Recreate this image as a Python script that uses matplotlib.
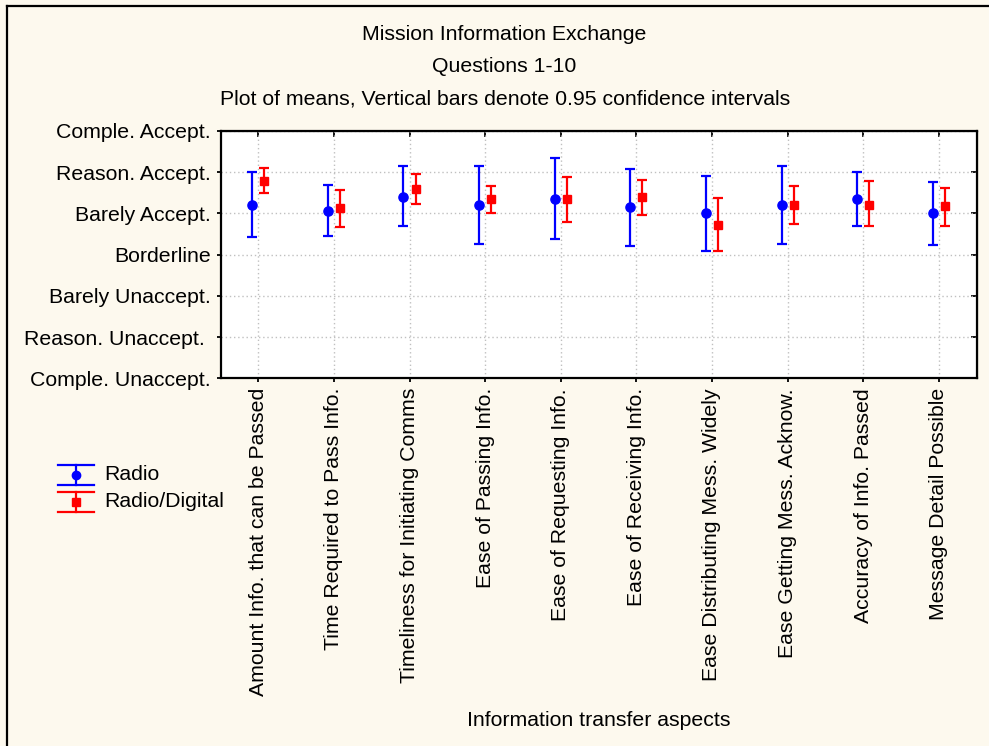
import matplotlib
matplotlib.use("Agg")
import matplotlib.pyplot as plt
from matplotlib.lines import Line2D
import numpy as np

plt.rcParams['font.family'] = ['Liberation Sans', 'DejaVu Sans']

categories = ["Amount Info. that can be Passed", "Time Required to Pass Info.",
              "Timeliness for Initiating Comms", "Ease of Passing Info.",
              "Ease of Requesting Info.", "Ease of Receiving Info.",
              "Ease Distributing Mess. Widely", "Ease Getting Mess. Acknow.",
              "Accuracy of Info. Passed", "Message Detail Possible"]
y_levels = [1, 2, 3, 4, 5, 6, 7]
y_labels = ["Comple. Unaccept.", "Reason. Unaccept. ", "Barely Unaccept.", "Borderline",
            "Barely Accept.", "Reason. Accept.", "Comple. Accept."]

radio_mean = [5.20, 5.07, 5.41, 5.20, 5.36, 5.16, 5.01, 5.20, 5.36, 5.01]
radio_lo = [4.42, 4.45, 4.70, 4.27, 4.39, 4.20, 4.08, 4.27, 4.70, 4.24]
radio_hi = [6.00, 5.68, 6.15, 6.16, 6.34, 6.08, 5.91, 6.15, 6.00, 5.76]
digital_mean = [5.79, 5.12, 5.59, 5.36, 5.36, 5.41, 4.73, 5.21, 5.21, 5.17]
digital_lo = [5.49, 4.68, 5.24, 5.00, 4.79, 4.97, 4.08, 4.74, 4.69, 4.70]
digital_hi = [6.11, 5.58, 5.96, 5.67, 5.88, 5.81, 5.37, 5.66, 5.78, 5.62]

W, H = 989, 746
FS = 15.3
bg = '#fdf9ee'
fig = plt.figure(figsize=(W / 100, H / 100), dpi=100, facecolor=bg)
ax = fig.add_axes([220.5 / W, 1 - 378.3 / H, (976.6 - 220.5) / W, (378.3 - 131) / H])
ax.set_facecolor('white')

x = np.arange(len(categories))
off = 0.08
rm = np.array(radio_mean); dm = np.array(digital_mean)
ax.errorbar(x - off, rm, yerr=[rm - np.array(radio_lo), np.array(radio_hi) - rm],
            fmt='o', color='#0000ff', ecolor='#0000ff', elinewidth=1.6, capsize=3.3,
            capthick=1.6, markersize=6.6, zorder=3)
ax.errorbar(x + off, dm, yerr=[dm - np.array(digital_lo), np.array(digital_hi) - dm],
            fmt='s', color='#ff0000', ecolor='#ff0000', elinewidth=1.6, capsize=3.3,
            capthick=1.6, markersize=6, zorder=3)

ax.set_xlim(-0.5, len(categories) - 0.5)
ax.set_ylim(1, 7)
ax.set_xticks(x)
ax.set_xticklabels(categories, rotation=90, fontsize=FS)
ax.set_yticks(y_levels)
ax.set_yticklabels(y_labels, fontsize=FS)
ax.grid(True, color='#c0c0c0', linestyle=(0, (1, 2)), linewidth=1)
ax.set_axisbelow(True)
for s in ax.spines.values():
    s.set_linewidth(1.6)
ax.tick_params(axis='both', direction='out', length=3, width=1.3, pad=4)

topax = ax.secondary_xaxis('top')
topax.set_xticks(x)
topax.set_xticklabels([])
topax.tick_params(direction='in', length=4, width=1.3)
rightax = ax.secondary_yaxis('right')
rightax.set_yticks(y_levels)
rightax.set_yticklabels([])
rightax.tick_params(direction='in', length=4, width=1.3)

fig.text(504 / W, 1 - 34 / H, "Mission Information Exchange", ha='center', va='center', fontsize=FS)
fig.text(504 / W, 1 - 66 / H, "Questions 1-10", ha='center', va='center', fontsize=FS)
fig.text(505 / W, 1 - 99 / H, "Plot of means, Vertical bars denote 0.95 confidence intervals",
         ha='center', va='center', fontsize=FS)
fig.text(599 / W, 1 - 720 / H, "Information transfer aspects", ha='center', va='center', fontsize=FS)

# legend (drawn in figure pixel coords)
def leg(y0, color, marker, ms, label):
    for yy in (y0 - 10, y0 + 10):
        fig.add_artist(Line2D([58 / W, 94 / W], [1 - yy / H] * 2, color=color, lw=1.6))
    fig.add_artist(Line2D([76 / W] * 2, [1 - (y0 - 10) / H, 1 - (y0 + 10) / H], color=color, lw=1.6))
    fig.add_artist(Line2D([76 / W], [1 - y0 / H], color=color, marker=marker, markersize=ms, lw=0))
    fig.text(104 / W, 1 - y0 / H, label, ha='left', va='center', fontsize=FS)

leg(475, '#0000ff', 'o', 6, 'Radio')
leg(501.5, '#ff0000', 's', 5.5, 'Radio/Digital')

# outer frame (left and top)
fig.add_artist(Line2D([7 / W, 7 / W], [0, 1 - 6 / H], color='black', lw=1.6))
fig.add_artist(Line2D([7 / W, 1], [1 - 6 / H, 1 - 6 / H], color='black', lw=1.6))

fig.savefig('out.png', dpi=100, facecolor=bg)
